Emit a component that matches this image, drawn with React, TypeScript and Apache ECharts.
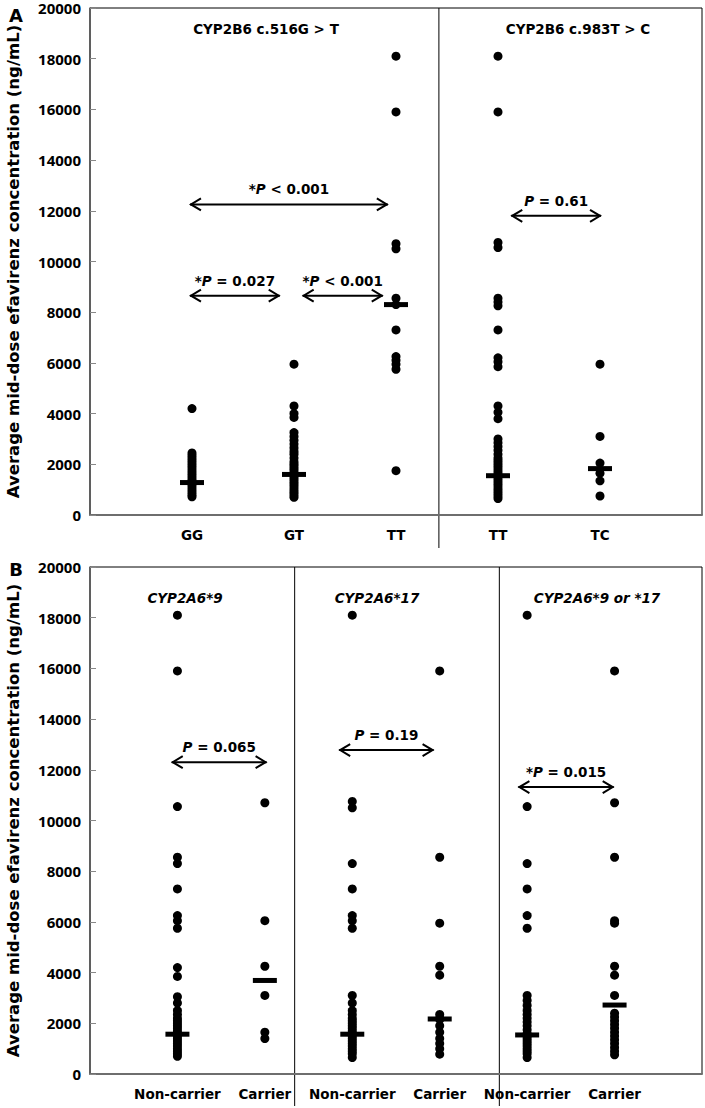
import React, { useEffect, useRef } from "react";
import * as echarts from "echarts";

// ---------- Panel A data ----------
const catA = ["GG", "GT", "TT", "TT", "TC"];
const gg516 = [4200, 2450, 2350, 2250, 2150, 2050, 1950, 1850, 1750, 1650, 1550, 1450, 1350, 1280, 1200, 1100, 1000, 900, 800, 720];
const gt516 = [5950, 4300, 4000, 3850, 3250, 3100, 2950, 2800, 2650, 2500, 2400, 2250, 2100, 2000, 1900, 1800, 1700, 1600, 1500, 1400, 1300, 1200, 1100, 1000, 900, 800, 700];
const tt516 = [18100, 15900, 10700, 10500, 8550, 8300, 7300, 6250, 6100, 5950, 5750, 1750];
const tt983 = [18100, 15900, 10750, 10550, 8550, 8400, 8250, 7300, 6200, 6050, 5850, 4300, 4050, 3800, 3000, 2850, 2700, 2550, 2400, 2250, 2150, 2050, 1950, 1850, 1750, 1650, 1550, 1450, 1350, 1250, 1150, 1050, 950, 850, 750, 650];
const tc983 = [5950, 3100, 2050, 1650, 1350, 750];
const mediansA = [1280, 1600, 8300, 1550, 1830];
const titlesA = ["CYP2B6 c.516G > T", "CYP2B6 c.983T > C"];
const dividerA = 3.415;
// arrows: from x, to x, y value, star, comparison text
const arrowFromA = [0.98, 0.98, 2.085, 4.13];
const arrowToA = [2.92, 1.86, 2.87, 5.01];
const arrowYA = [12250, 8650, 8650, 11800];
const arrowStarA = [true, true, true, false];
const arrowTextA = ["< 0.001", "= 0.027", "< 0.001", "= 0.61"];

// ---------- Panel B data ----------
const catB = ["Non-carrier", "Carrier", "Non-carrier", "Carrier", "Non-carrier", "Carrier"];
const non9 = [18100, 15900, 10550, 8550, 8300, 7300, 6250, 6050, 5750, 4200, 3850, 3050, 2800, 2500, 2350, 2200, 2100, 2000, 1900, 1800, 1700, 1600, 1500, 1400, 1300, 1200, 1100, 1000, 900, 800, 700];
const car9 = [10700, 6050, 4250, 3100, 1650, 1400];
const non17 = [18100, 10750, 10500, 8300, 7300, 6250, 6050, 5750, 3100, 2800, 2500, 2350, 2200, 2100, 2000, 1900, 1800, 1700, 1600, 1500, 1400, 1300, 1200, 1100, 1000, 900, 800, 650];
const car17 = [15900, 8550, 5950, 4250, 3900, 2350, 2200, 2150, 1900, 1650, 1400, 1200, 1000, 780];
const nonEither = [18100, 10550, 8300, 7300, 6250, 5750, 3100, 2900, 2700, 2500, 2350, 2200, 2050, 1900, 1750, 1600, 1500, 1400, 1300, 1200, 1100, 1000, 900, 800, 650];
const carEither = [15900, 10700, 8550, 6050, 5950, 4250, 3900, 3100, 2400, 2250, 2100, 1950, 1800, 1650, 1500, 1350, 1200, 1050, 900, 760];
const mediansB = [1570, 3690, 1570, 2170, 1540, 2720];
const titlesB = ["CYP2A6*9", "CYP2A6*17", "CYP2A6*9 or *17"];
const dividersB = [7 / 3, 14 / 3];
const arrowFromB = [0.935, 2.85, 4.9];
const arrowToB = [2.02, 3.93, 5.99];
const arrowYB = [12300, 12780, 11320];
const arrowStarB = [false, false, true];
const arrowTextB = ["= 0.065", "= 0.19", "= 0.015"];

const yTicks = [0, 20000, 2000]; // min, max, interval

const FONT = "DejaVu Sans";
const FONT_Y = "Open Sans";

const gA = { left: 90, top: 8, width: 613, height: 507 };
const gB = { left: 90, top: 567, width: 614, height: 507 };

export default function App() {
  const ref = useRef<HTMLDivElement>(null);
  useEffect(() => {
    document.body.style.margin = "0";
    const chart = echarts.init(ref.current!, undefined, { renderer: "svg" });

    const dot = (x: number, arr: number[]) => arr.map((v) => [x, v]);

    const rich = {
      s: { fontFamily: FONT, fontWeight: "bold", fontSize: 13.5, color: "#000" },
      i: { fontFamily: FONT, fontWeight: "bold", fontStyle: "italic", fontSize: 13.5, color: "#000" },
    };

    const arrowSeries = (idx: number, from: number[], to: number[], ys: number[], star: boolean[], txt: string[]) => ({
      type: "custom",
      xAxisIndex: idx,
      yAxisIndex: idx,
      encode: { x: [0, 1], y: 2 },
      data: from.map((f, i) => [f, to[i], ys[i]]),
      renderItem: (params: any, api: any) => {
        const i = params.dataIndex;
        const p1 = api.coord([api.value(0), api.value(2)]);
        const p2 = api.coord([api.value(1), api.value(2)]);
        const hl = 11, hw = 6;
        const st = { stroke: "#000", lineWidth: 2, fill: null };
        return {
          type: "group",
          children: [
            { type: "line", shape: { x1: p1[0], y1: p1[1], x2: p2[0], y2: p2[1] }, style: st },
            { type: "polyline", shape: { points: [[p1[0] + hl, p1[1] - hw], [p1[0] + 1, p1[1]], [p1[0] + hl, p1[1] + hw]] }, style: st },
            { type: "polyline", shape: { points: [[p2[0] - hl, p2[1] - hw], [p2[0] - 1, p2[1]], [p2[0] - hl, p2[1] + hw]] }, style: st },
            {
              type: "text",
              x: (p1[0] + p2[0]) / 2,
              y: p1[1] - 15,
              style: {
                text: (star[i] ? "{s|*}" : "") + "{i|P}{s| " + txt[i] + "}",
                rich,
                align: "center",
                verticalAlign: "middle",
              },
            },
          ],
        };
      },
    });

    const xAxisBase = (idx: number, max: number, cats: string[]) => ({
      type: "value",
      gridIndex: idx,
      min: 0,
      max,
      interval: 1,
      axisTick: { show: false },
      splitLine: { show: false },
      axisLine: { lineStyle: { color: "#6e6e6e", width: 2 } },
      axisLabel: {
        formatter: (v: number) => cats[v - 1] ?? "",
        fontFamily: FONT,
        fontWeight: "bold",
        fontSize: 13.5,
        color: "#000",
        margin: 13,
      },
    });
    const yAxisBase = (idx: number) => ({
      type: "value",
      gridIndex: idx,
      min: yTicks[0],
      max: yTicks[1],
      interval: yTicks[2],
      splitLine: { show: false },
      axisLine: { show: true, lineStyle: { color: "#555", width: 1.5 } },
      axisTick: { show: true, inside: true, length: 6, lineStyle: { color: "#888" } },
      axisLabel: {
        formatter: (v: number) => String(v),
        fontFamily: FONT_Y,
        fontWeight: "bold",
        fontSize: 15,
        lineHeight: 14,
        color: "#000",
        margin: 9,
        padding: [2, 0, 0, 0],
      },
    });

    const scatter = (idx: number, data: number[][]) => ({
      type: "scatter",
      xAxisIndex: idx,
      yAxisIndex: idx,
      symbol: "circle",
      symbolSize: 9,
      itemStyle: { color: "#000", opacity: 1 },
      data,
      silent: true,
    });
    const median = (idx: number, meds: number[]) => ({
      type: "scatter",
      xAxisIndex: idx,
      yAxisIndex: idx,
      symbol: "rect",
      symbolSize: [24, 5],
      itemStyle: { color: "#000", opacity: 1 },
      data: meds.map((m, i) => [i + 1, m]),
      z: 5,
      silent: true,
    });

    const pxA = (v: number) => gA.left + (v / 6) * gA.width;
    const pxB = (v: number) => gB.left + (v / 7) * gB.width;

    const yName = "Average mid-dose efavirenz concentration (ng/mL)";
    const txt = (text: string, x: number, y: number, extra: any = {}) => ({
      type: "text",
      x,
      y,
      style: { text, fontFamily: FONT, fontWeight: "bold", fontSize: 13.5, fill: "#000", align: "center", verticalAlign: "middle", ...extra },
    });

    const graphic: any[] = [
      txt("A", 16, 15, { fontSize: 18 }),
      txt("B", 16, 569, { fontSize: 18 }),
      { ...txt(yName, 13, gA.top + gA.height / 2, { fontSize: 16.5 }), rotation: Math.PI / 2 },
      { ...txt(yName, 13, gB.top + gB.height / 2, { fontSize: 16.5 }), rotation: Math.PI / 2 },
      txt(titlesA[0], 266, 29),
      txt(titlesA[1], 578, 29),
      txt(titlesB[0], 185, 598, { fontStyle: "italic" }),
      txt(titlesB[1], 377, 598, { fontStyle: "italic" }),
      txt(titlesB[2], 597, 598, { fontStyle: "italic" }),
      { type: "line", shape: { x1: pxA(dividerA), y1: gA.top, x2: pxA(dividerA), y2: 548 }, style: { stroke: "#000", lineWidth: 1 } },
      ...dividersB.map((d) => ({ type: "line", shape: { x1: pxB(d), y1: gB.top, x2: pxB(d), y2: 1106 }, style: { stroke: "#000", lineWidth: 1 } })),
    ];

    chart.setOption({
      animation: false,
      backgroundColor: "#fff",
      grid: [
        { ...gA, show: true, borderColor: "#000", borderWidth: 1, backgroundColor: "transparent" },
        { ...gB, show: true, borderColor: "#000", borderWidth: 1, backgroundColor: "transparent" },
      ],
      xAxis: [xAxisBase(0, 6, catA), xAxisBase(1, 7, catB)],
      yAxis: [yAxisBase(0), yAxisBase(1)],
      graphic,
      series: [
        scatter(0, [...dot(1, gg516), ...dot(2, gt516), ...dot(3, tt516), ...dot(4, tt983), ...dot(5, tc983)]),
        median(0, mediansA),
        arrowSeries(0, arrowFromA, arrowToA, arrowYA, arrowStarA, arrowTextA),
        scatter(1, [...dot(1, non9), ...dot(2, car9), ...dot(3, non17), ...dot(4, car17), ...dot(5, nonEither), ...dot(6, carEither)]),
        median(1, mediansB),
        arrowSeries(1, arrowFromB, arrowToB, arrowYB, arrowStarB, arrowTextB),
      ],
    });
    return () => chart.dispose();
  }, []);
  return <div ref={ref} style={{ width: 705, height: 1108, position: "absolute", left: 0, top: 0 }} />;
}
